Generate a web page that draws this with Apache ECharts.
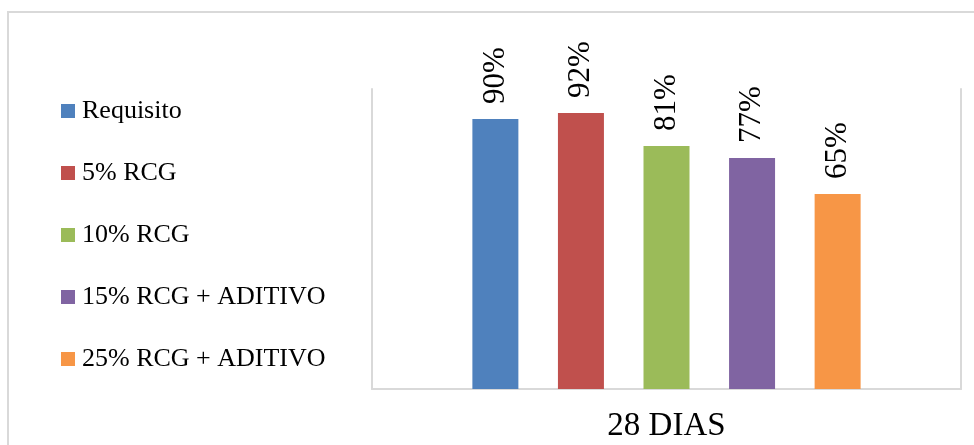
<!DOCTYPE html>
<html>
<head>
<meta charset="utf-8">
<script src="https://cdn.jsdelivr.net/npm/echarts@6/dist/echarts.min.js"></script>
<style>
html,body{margin:0;padding:0;background:#fff;}
#chart{width:974px;height:445px;}
</style>
</head>
<body>
<div id="chart"></div>
<script>
const categories = ['28 DIAS'];
const seriesNames = ['Requisito', '5% RCG', '10% RCG', '15% RCG + ADITIVO', '25% RCG + ADITIVO'];
const seriesValues = [90, 92, 81, 77, 65];
const seriesColors = ['#4F81BD', '#C0504D', '#9BBB59', '#8064A2', '#F79646'];

const FONT = '"Liberation Serif", "Times New Roman", serif';

const chart = echarts.init(document.getElementById('chart'), null, {renderer: 'canvas'});

const series = seriesNames.map((name, i) => ({
  name: name,
  type: 'bar',
  data: [seriesValues[i]],
  barWidth: 46,
  barGap: '86%',
  itemStyle: {color: seriesColors[i]},
  label: {
    show: true,
    position: 'top',
    rotate: 90,
    align: 'left',
    verticalAlign: 'middle',
    distance: 15,
    formatter: (p) => p.value + '%',
    fontFamily: FONT,
    fontSize: 31,
    color: '#000'
  }
}));

chart.setOption({
  animation: false,
  backgroundColor: '#fff',
  graphic: [{
    type: 'rect',
    shape: {x: 8, y: 12, width: 1100, height: 600},
    style: {fill: 'none', stroke: '#d9d9d9', lineWidth: 2},
    silent: true,
    z: -10
  }],
  legend: {
    orient: 'vertical',
    left: 61,
    top: 98,
    padding: 0,
    itemWidth: 14,
    itemHeight: 14,
    itemGap: 36,
    icon: 'rect',
    textStyle: {fontFamily: FONT, fontSize: 26, lineHeight: 25, color: '#000', padding: [0, 0, 0, 2]},
    data: seriesNames
  },
  grid: {left: 372, right: 13, top: 89, bottom: 56, containLabel: false},
  xAxis: {
    type: 'category',
    data: categories,
    axisLine: {show: true, lineStyle: {color: '#d9d9d9', width: 2}},
    axisTick: {show: false},
    axisLabel: {fontFamily: FONT, fontSize: 33, color: '#000', margin: 21}
  },
  yAxis: [{
    type: 'value',
    min: 0,
    max: 100,
    axisLine: {show: true, lineStyle: {color: '#d9d9d9', width: 2}},
    axisLabel: {show: false},
    axisTick: {show: false},
    splitLine: {show: false}
  }, {
    type: 'value',
    position: 'right',
    min: 0,
    max: 100,
    axisLine: {show: true, lineStyle: {color: '#d9d9d9', width: 2}},
    axisLabel: {show: false},
    axisTick: {show: false},
    splitLine: {show: false}
  }],
  series: series
});
</script>
</body>
</html>
